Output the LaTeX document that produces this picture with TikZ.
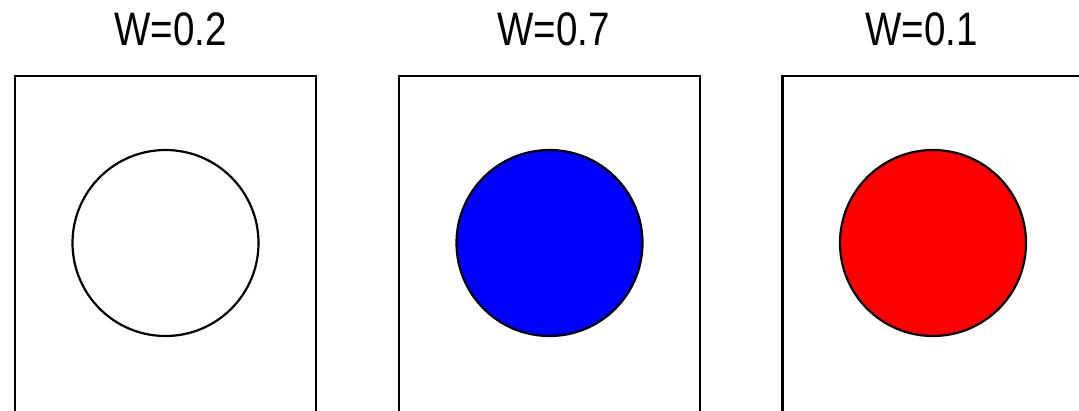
\documentclass[tikz,border=0pt]{standalone}
\usepackage{fontspec}
\setmainfont{Liberation Sans}
\newfontfamily\narrowsans[FakeStretch=0.82]{Liberation Sans}
\usetikzlibrary{positioning}

\begin{document}
\begin{tikzpicture}[x=1pt, y=-1pt, line width=2.2pt,
  panel/.style={draw, anchor=north, inner sep=0pt, minimum width=301pt, minimum height=420pt},
  disc/.style={draw, circle, inner sep=0pt, minimum size=186pt},
  weight/.style={anchor=base, inner sep=0pt, font=\narrowsans\fontsize{47}{56}\selectfont}]
\useasboundingbox (0,0) rectangle (1079,410);
\clip (0,0) rectangle (1079,410);
\foreach \n/\cx/\tx/\w/\col in {a/165.5/170.5/0.2/white, b/549.5/553.5/0.7/blue, c/933/921.5/0.1/red} {
  \node[panel] (p\n) at (\cx,75) {};
  \node[disc, fill=\col] (d\n) at (\cx,243) {};
  \node[weight] (w\n) at (\tx,45) {W=\w};
}
\end{tikzpicture}
\end{document}
